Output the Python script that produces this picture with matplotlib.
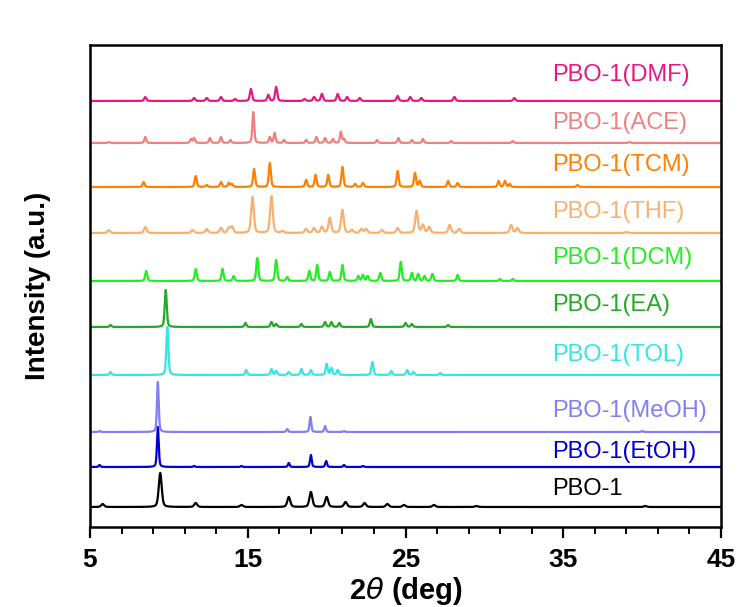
import numpy as np
import matplotlib
matplotlib.use('Agg')
import matplotlib.pyplot as plt

plt.rcParams['font.family'] = ['Liberation Sans', 'DejaVu Sans']

# sample names, colours and vertical offsets (stack order bottom -> top)
names = ['PBO-1', 'PBO-1(EtOH)', 'PBO-1(MeOH)', 'PBO-1(TOL)', 'PBO-1(EA)',
         'PBO-1(DCM)', 'PBO-1(THF)', 'PBO-1(TCM)', 'PBO-1(ACE)', 'PBO-1(DMF)']
colors = ['#000000', '#0000D0', '#8080F0', '#33E6E6', '#22AA22',
          '#22EE22', '#F7B070', '#FF8000', '#F08080', '#E8177F']
offsets = [20, 60, 95, 152, 200, 246, 294, 340, 384, 426]
label_y = [38, 75, 116, 172, 222, 269, 315, 362, 404, 452]
widths = [0.22, 0.13, 0.13, 0.15, 0.15, 0.15, 0.2, 0.15, 0.14, 0.16]
major_ticks = [5, 15, 25, 35, 45]

# peak lists: (2theta, height)
pbo1 = [(5.8, 3), (9.45, 34), (11.7, 4), (14.6, 2), (17.6, 10), (19.0, 15), (20.0, 10),
        (21.2, 5), (22.4, 4), (23.85, 3), (24.9, 2), (26.8, 2), (29.5, 1), (40.2, 1)]
etoh = [(5.6, 2), (9.3, 40), (11.6, 1), (14.6, 1), (17.6, 4), (19.0, 12), (19.97, 6),
        (21.1, 2), (22.3, 1)]
meoh = [(5.6, 1), (9.3, 50), (17.5, 3), (18.97, 15), (19.9, 6), (21.1, 1), (40.0, 1)]
tol = [(6.3, 3), (9.9, 48), (14.9, 5), (16.5, 6), (16.8, 4), (17.6, 3), (18.4, 6),
       (19.0, 5), (20.0, 11), (20.3, 7), (20.7, 5), (22.9, 13), (24.1, 4), (25.1, 5),
       (25.5, 3), (27.2, 2)]
ea = [(6.3, 2), (9.8, 37), (14.85, 4), (16.5, 5), (16.8, 3), (18.4, 3), (19.9, 5),
      (20.3, 5), (20.8, 4), (22.8, 8), (25.0, 4), (25.4, 3), (27.7, 2)]
dcm = [(8.56, 10), (11.7, 12), (13.4, 12), (14.1, 5), (15.6, 23), (16.8, 21), (17.5, 4),
       (18.9, 10), (19.4, 16), (20.2, 9), (21.0, 16), (22.0, 5), (22.3, 6), (22.6, 5),
       (23.4, 8), (24.7, 19), (25.4, 8), (25.8, 7), (26.2, 5), (26.7, 7), (28.3, 6),
       (31.0, 2), (31.8, 2)]
thf = [(6.2, 3), (8.5, 6), (11.5, 3), (12.4, 4), (13.3, 5), (13.8, 5), (14.0, 6),
       (15.3, 36), (16.5, 37), (17.2, 2), (18.7, 4), (19.2, 5), (19.7, 6), (20.2, 15),
       (21.0, 23), (21.6, 3), (22.2, 4), (22.5, 4), (23.5, 3), (24.5, 5), (25.7, 22),
       (26.1, 8), (26.5, 6), (27.8, 8), (28.4, 4), (31.7, 8), (32.1, 5), (39.0, 1)]
tcm = [(8.4, 5), (11.7, 11), (12.4, 2), (13.3, 5), (13.8, 4), (14.0, 3), (15.4, 18),
       (16.4, 24), (18.7, 7), (19.3, 12), (20.1, 12), (21.0, 20), (21.8, 3), (22.3, 4),
       (24.5, 16), (25.6, 14), (25.9, 6), (27.7, 6), (28.3, 4), (30.9, 6), (31.3, 6),
       (31.6, 3), (35.9, 2)]
ace = [(6.2, 1), (8.5, 6), (11.4, 4), (11.6, 5), (12.6, 5), (13.3, 6), (13.9, 3),
       (15.35, 31), (16.4, 6), (16.7, 10), (17.3, 3), (18.7, 3), (19.35, 6), (19.9, 5),
       (20.4, 4), (20.9, 11), (21.1, 4), (23.2, 3), (24.55, 5), (25.4, 3), (26.1, 4),
       (27.9, 2), (31.8, 2), (39.2, 1)]
dmf = [(8.5, 4), (11.6, 3), (12.4, 3), (13.3, 4), (14.2, 2), (15.2, 12), (16.3, 6),
       (16.8, 14), (18.6, 2), (19.2, 4), (19.7, 7), (20.7, 7), (21.3, 4), (22.1, 3),
       (24.5, 5), (25.3, 4), (26.0, 3), (28.1, 4), (31.9, 3)]
peaks = [pbo1, etoh, meoh, tol, ea, dcm, thf, tcm, ace, dmf]


def pattern(x, peak_list, w):
    y = np.zeros_like(x)
    for pos, h in peak_list:
        g = np.exp(-4 * np.log(2) * ((x - pos) / w) ** 2)
        lor = 1.0 / (1 + 4 * ((x - pos) / w) ** 2)
        y += h * (0.6 * g + 0.4 * lor)
    return y


def draw_xrd():
    x = np.linspace(5, 45, 4001)
    fig = plt.figure(figsize=(7.52, 6.07), dpi=100)
    ax = fig.add_axes([0.1197, 0.1318, 0.8391, 0.7941])
    for i in range(len(names)):
        ax.plot(x, pattern(x, peaks[i], widths[i]) + offsets[i], color=colors[i], lw=1.6)
        ax.text(34.3, label_y[i], names[i], color=colors[i], fontsize=17, va='center')
    ax.set_xlim(5, 45)
    ax.set_ylim(0, 482)
    ax.set_yticks([])
    ax.set_xticks(major_ticks)
    ax.set_xticks(np.arange(5, 46, 2), minor=True)
    ax.tick_params(axis='x', which='major', direction='out', length=8, width=1.6,
                   labelsize=19, pad=7)
    ax.tick_params(axis='x', which='minor', direction='out', length=5, width=1.4)
    for lab in ax.get_xticklabels():
        lab.set_fontweight('bold')
        lab.set_family(['Liberation Sans Narrow', 'Liberation Sans'])
    for sp in ax.spines.values():
        sp.set_linewidth(1.8)
    ax.set_xlabel(r'2$\theta$ (deg)', fontsize=21, fontweight='bold', labelpad=2)
    ax.set_ylabel('Intensity (a.u.)', fontsize=20, fontweight='bold', labelpad=28)
    fig.savefig('out.png', dpi=100)
    plt.close(fig)


if __name__ == '__main__':
    draw_xrd()
